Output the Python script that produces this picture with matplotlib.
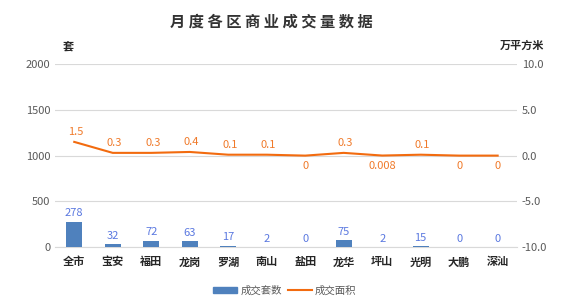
import matplotlib
matplotlib.use("Agg")
import matplotlib.pyplot as plt
import numpy as np
from matplotlib.patches import Patch
from matplotlib.lines import Line2D

plt.rcParams['font.family'] = ['Noto Sans CJK SC', 'DejaVu Sans']

# data
districts = ["全市", "宝安", "福田", "龙岗", "罗湖", "南山", "盐田", "龙华", "坪山", "光明", "大鹏", "深汕"]
units = [278, 32, 72, 63, 17, 2, 0, 75, 2, 15, 0, 0]
area = [1.5, 0.3, 0.3, 0.4, 0.1, 0.1, 0, 0.3, 0.008, 0.1, 0, 0]
area_labels = ["1.5", "0.3", "0.3", "0.4", "0.1", "0.1", "0", "0.3", "0.008", "0.1", "0", "0"]

bar_color = "#4F81BD"
line_color = "#F26B0F"

fig = plt.figure(figsize=(5.64, 3.01), dpi=100)
ax = fig.add_axes([0.0975, 0.179, 0.819, 0.608])
ax2 = ax.twinx()

x = np.arange(len(districts))
ax.bar(x, units, width=0.42, color=bar_color, zorder=3)
for xi, v in zip(x, units):
    ax.text(xi, v + 35, str(v), ha='center', va='bottom', fontsize=8, color="#5A78E0")

ax.set_ylim(0, 2000)
ax.set_yticks([0, 500, 1000, 1500, 2000])
ax.set_xlim(-0.5, len(districts) - 0.5)
ax.set_xticks(x)
ax.set_xticklabels(districts, fontsize=8, fontweight='bold', color="#262626")
ax.grid(axis='y', color="#D9D9D9", linewidth=0.8, zorder=0)
ax.tick_params(axis='both', length=0, labelsize=8, colors="#595959")
ax.tick_params(axis='x', colors="#262626", pad=6)
for s in ax.spines.values():
    s.set_visible(False)
ax.spines['bottom'].set_visible(True)
ax.spines['bottom'].set_color("#D9D9D9")

ax2.plot(x, area, color=line_color, linewidth=1.5, zorder=4)
for xi, v, lab in zip(x, area, area_labels):
    if v > 0.05:
        ax2.text(xi + 0.05, v + 0.5, lab, ha='center', va='bottom', fontsize=8, color="#F07A2A")
    else:
        ax2.text(xi, v - 0.6, lab, ha='center', va='top', fontsize=8, color="#F07A2A")
ax2.set_ylim(-10, 10)
ax2.set_yticks([-10, -5, 0, 5, 10])
ax2.set_yticklabels(["-10.0", "-5.0", "0.0", "5.0", "10.0"])
ax2.tick_params(axis='y', length=0, labelsize=8, colors="#595959")
for s in ax2.spines.values():
    s.set_visible(False)

title = " ".join("月度各区商业成交量数据")
fig.text(0.481, 0.927, title, ha='center', va='center',
         fontsize=11, fontweight='bold', color="#333333")
fig.text(0.121, 0.848, "套", ha='center', va='center', fontsize=8, fontweight='bold', color="#262626")
fig.text(0.925, 0.848, "万平方米", ha='center', va='center', fontsize=8, fontweight='bold', color="#262626")

handles = [Patch(color=bar_color), Line2D([0], [0], color=line_color, linewidth=1.5)]
fig.legend(handles, ["成交套数", "成交面积"], loc='center', bbox_to_anchor=(0.505, 0.035),
           ncol=2, frameon=False, fontsize=7.5, handlelength=2.3, handleheight=0.6,
           columnspacing=0.6, handletextpad=0.3, labelcolor="#595959")

plt.savefig("out.png", dpi=100)
